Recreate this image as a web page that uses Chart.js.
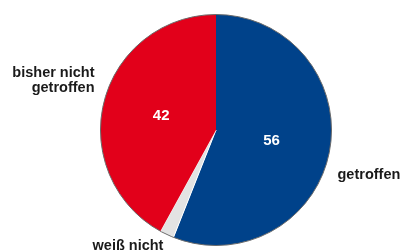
<!DOCTYPE html>
<html><head><meta charset="utf-8">
<script src="https://cdn.jsdelivr.net/npm/chart.js@4/dist/chart.umd.min.js"></script>
<style>html,body{margin:0;padding:0;background:#fff}#wrap{width:403px;height:252px;position:relative}</style>
</head><body><div id="wrap"><canvas id="c"></canvas></div>
<script>
const categories = ["getroffen", "weiß nicht", "bisher nicht getroffen"];
const values = [56, 2, 42];
const valueLabels = ["56", "", "42"];
const colors = ["#00428a", "#e3e3e3", "#e2001a"];

const FONT = '"Liberation Sans", Arial, sans-serif';

const labelPlugin = {
  id: 'labels',
  afterDatasetsDraw(chart) {
    const ctx = chart.ctx;
    const meta = chart.getDatasetMeta(0);
    const a0 = meta.data[0];
    const cx = a0.x, cy = a0.y, r = a0.outerRadius;
    // outline
    ctx.save();
    ctx.beginPath();
    ctx.arc(cx, cy, r, 0, Math.PI * 2);
    ctx.strokeStyle = '#6a6a6a';
    ctx.lineWidth = 1;
    ctx.stroke();
    // values inside
    ctx.fillStyle = '#fff';
    ctx.font = 'bold 15px ' + FONT;
    ctx.textAlign = 'center';
    ctx.textBaseline = 'middle';
    meta.data.forEach((arc, i) => {
      if (!valueLabels[i]) return;
      const mid = (arc.startAngle + arc.endAngle) / 2;
      ctx.fillText(valueLabels[i], cx + Math.cos(mid) * r * 0.49, cy + Math.sin(mid) * r * 0.49);
    });
    // category labels
    ctx.fillStyle = '#1a1a1a';
    ctx.font = 'bold 14.5px ' + FONT;
    ctx.textAlign = 'left';
    ctx.fillText(categories[0], cx + r + 6, cy + 45);
    ctx.textAlign = 'right';
    ctx.fillText('bisher nicht', cx - r - 6, cy - 57);
    ctx.fillText('getroffen', cx - r - 6, cy - 42);
    ctx.textAlign = 'center';
    ctx.fillText(categories[1], cx - 88, cy + 116);
    ctx.restore();
  }
};

new Chart(document.getElementById('c'), {
  type: 'pie',
  data: {
    labels: categories,
    datasets: [{
      data: values,
      backgroundColor: colors,
      borderColor: '#ffffff',
      borderWidth: [0, 1, 0],
      hoverOffset: 0
    }]
  },
  options: {
    responsive: true,
    maintainAspectRatio: false,
    animation: false,
    layout: { padding: { left: 29, right: 0, top: 14, bottom: 6 } },
    plugins: { legend: { display: false }, tooltip: { enabled: false } }
  },
  plugins: [labelPlugin]
});
</script></body></html>
